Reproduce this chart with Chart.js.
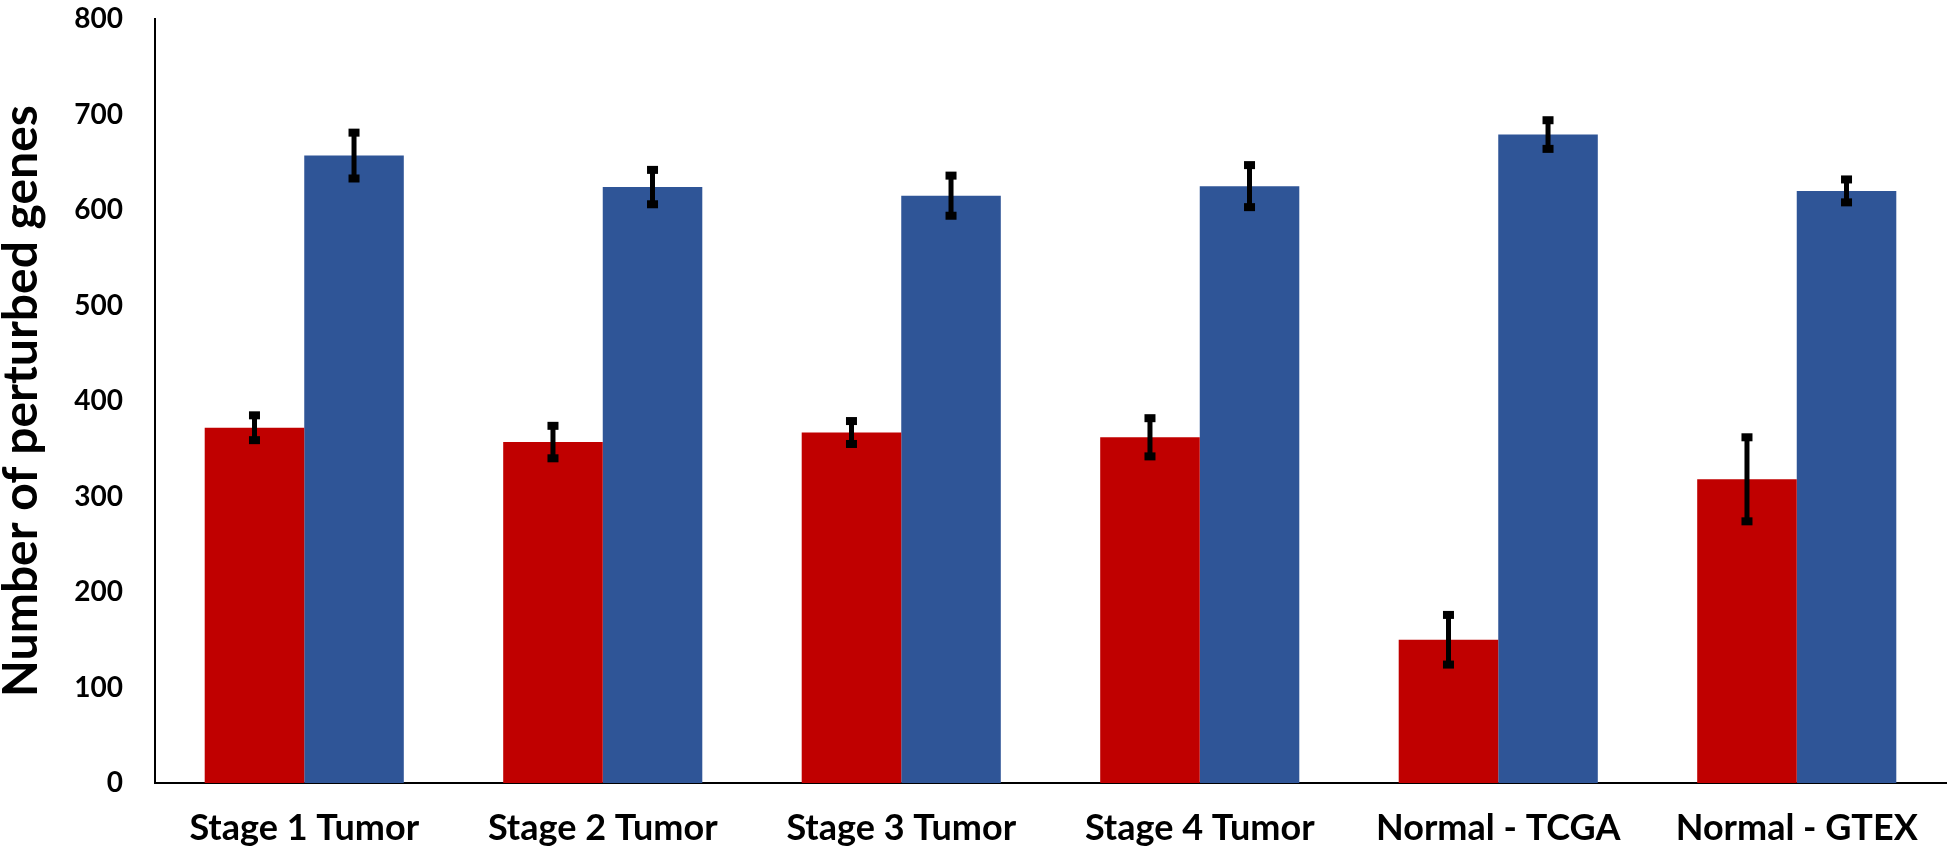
<!DOCTYPE html>
<html>
<head>
<meta charset="utf-8">
<script src="https://cdn.jsdelivr.net/npm/chart.js@4"></script>
<style>
  html, body { margin: 0; padding: 0; background: #fff; }
  #wrap { width: 1952px; height: 851px; }
</style>
</head>
<body>
<div id="wrap"><canvas id="chart"></canvas></div>
<script>
const categories = ['Stage 1 Tumor', 'Stage 2 Tumor', 'Stage 3 Tumor', 'Stage 4 Tumor', 'Normal - TCGA', 'Normal - GTEX'];
const redValues = [372, 357, 367, 362, 150, 318];
const redErrors = [13, 17, 12, 20, 26, 44];
const blueValues = [657, 624, 615, 625, 679, 620];
const blueErrors = [24, 18, 21, 22, 15, 12];
const yTicks = [0, 100, 200, 300, 400, 500, 600, 700, 800];

const fontFamily = 'Lato, "Open Sans", sans-serif';

// error bars drawn on top of the bars
const errorBars = {
  id: 'errorBars',
  afterDatasetsDraw(chart) {
    const ctx = chart.ctx;
    const y = chart.scales.y;
    chart.data.datasets.forEach((ds, di) => {
      const meta = chart.getDatasetMeta(di);
      meta.data.forEach((bar, i) => {
        const v = ds.data[i];
        const e = ds.errors[i];
        const top = y.getPixelForValue(v + e);
        const bottom = y.getPixelForValue(v - e);
        ctx.save();
        ctx.strokeStyle = '#000';
        ctx.fillStyle = '#000';
        ctx.lineWidth = 5;
        ctx.beginPath();
        ctx.moveTo(bar.x, top);
        ctx.lineTo(bar.x, bottom);
        ctx.stroke();
        ctx.fillRect(bar.x - 5.5, top - 4, 11, 8);
        ctx.fillRect(bar.x - 5.5, bottom - 4, 11, 8);
        ctx.restore();
      });
    });
  }
};

new Chart(document.getElementById('chart'), {
  type: 'bar',
  data: {
    labels: categories,
    datasets: [
      { label: 'red', data: redValues, errors: redErrors, backgroundColor: '#C00000',
        categoryPercentage: 0.667, barPercentage: 1.0 },
      { label: 'blue', data: blueValues, errors: blueErrors, backgroundColor: '#2F5597',
        categoryPercentage: 0.667, barPercentage: 1.0 }
    ]
  },
  options: {
    responsive: true,
    maintainAspectRatio: false,
    animation: false,
    layout: { padding: { top: 19, right: 6, left: 0, bottom: 0 } },
    plugins: { legend: { display: false }, tooltip: { enabled: false } },
    scales: {
      x: {
        grid: { display: false, drawTicks: false },
        border: { display: true, color: '#000', width: 2 },
        ticks: { color: '#000', padding: 24, font: { family: fontFamily, size: 36, weight: 'bold' } },
        afterFit(scale) { scale.height = 68; }
      },
      y: {
        min: 0,
        max: 800,
        grid: { display: false, drawTicks: false },
        border: { display: true, color: '#000', width: 2 },
        afterBuildTicks(scale) { scale.ticks = yTicks.map(v => ({ value: v })); },
        ticks: { color: '#000', padding: 32, font: { family: fontFamily, size: 28, weight: 'bold' } },
        title: {
          display: true,
          text: 'Number of perturbed genes',
          color: '#000',
          padding: { top: -2, bottom: 0 },
          font: { family: fontFamily, size: 48, weight: 'bold', lineHeight: 1.0 }
        },
        afterFit(scale) {
          scale.width = 155;
          scale.paddingTop = 0;
          scale.paddingBottom = 0;
        }
      }
    }
  },
  plugins: [errorBars]
});
</script>
</body>
</html>
